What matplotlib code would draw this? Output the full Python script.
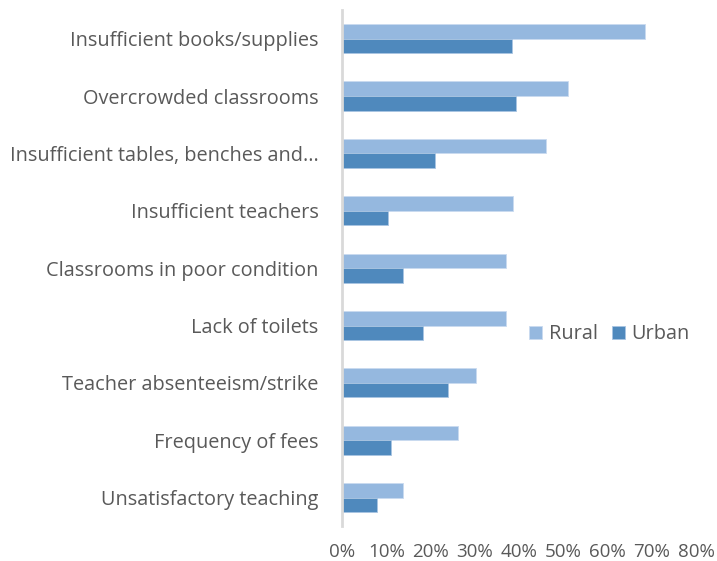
import numpy as np
import matplotlib.pyplot as plt
from matplotlib.ticker import FuncFormatter

categories = ['Insufficient books/supplies', 'Overcrowded classrooms',
              'Insufficient tables, benches and...', 'Insufficient teachers',
              'Classrooms in poor condition', 'Lack of toilets',
              'Teacher absenteeism/strike', 'Frequency of fees',
              'Unsatisfactory teaching']
rural = [68.5, 51, 46, 38.7, 37, 37, 30.3, 26.2, 13.8]
urban = [38.5, 39.2, 21, 10.4, 13.8, 18.3, 24, 11, 7.8]

plt.rcParams['font.family'] = ['Open Sans', 'DejaVu Sans']
grey = '#595959'

fig = plt.figure(figsize=(7.17, 5.61), dpi=100)
ax = fig.add_axes([0.477, 0.062, 0.494, 0.920])

y = np.arange(len(categories))
h = 0.255
ax.barh(y - h / 2, rural, height=h, color='#95B8DF', edgecolor='#C9DAF0',
        linewidth=0.6, label='Rural')
ax.barh(y + h / 2, urban, height=h, color='#4F89BD', edgecolor='#A9C5E2',
        linewidth=0.6, label='Urban')

ax.set_ylim(len(categories) - 0.5, -0.5)
ax.set_xlim(0, 80)
ax.set_xticks(range(0, 81, 10))
ax.xaxis.set_major_formatter(FuncFormatter(lambda v, p: '%d%%' % v))
ax.set_yticks(y)
ax.set_yticklabels(categories)
ax.tick_params(axis='y', length=0, labelsize=14.3, colors=grey, pad=17)
ax.tick_params(axis='x', length=0, labelsize=13.5, colors=grey, pad=12)

for s in ['top', 'right', 'bottom']:
    ax.spines[s].set_visible(False)
ax.spines['left'].set_color('#D9D9D9')
ax.spines['left'].set_linewidth(2)

leg = ax.legend(loc='center left', bbox_to_anchor=(0.5, 0.372), ncol=2,
                frameon=False, fontsize=14.3, handlelength=0.65,
                handleheight=0.65, handletextpad=0.35, columnspacing=0.7,
                borderpad=0)
for t in leg.get_texts():
    t.set_color(grey)

plt.savefig('out.png', dpi=100)
